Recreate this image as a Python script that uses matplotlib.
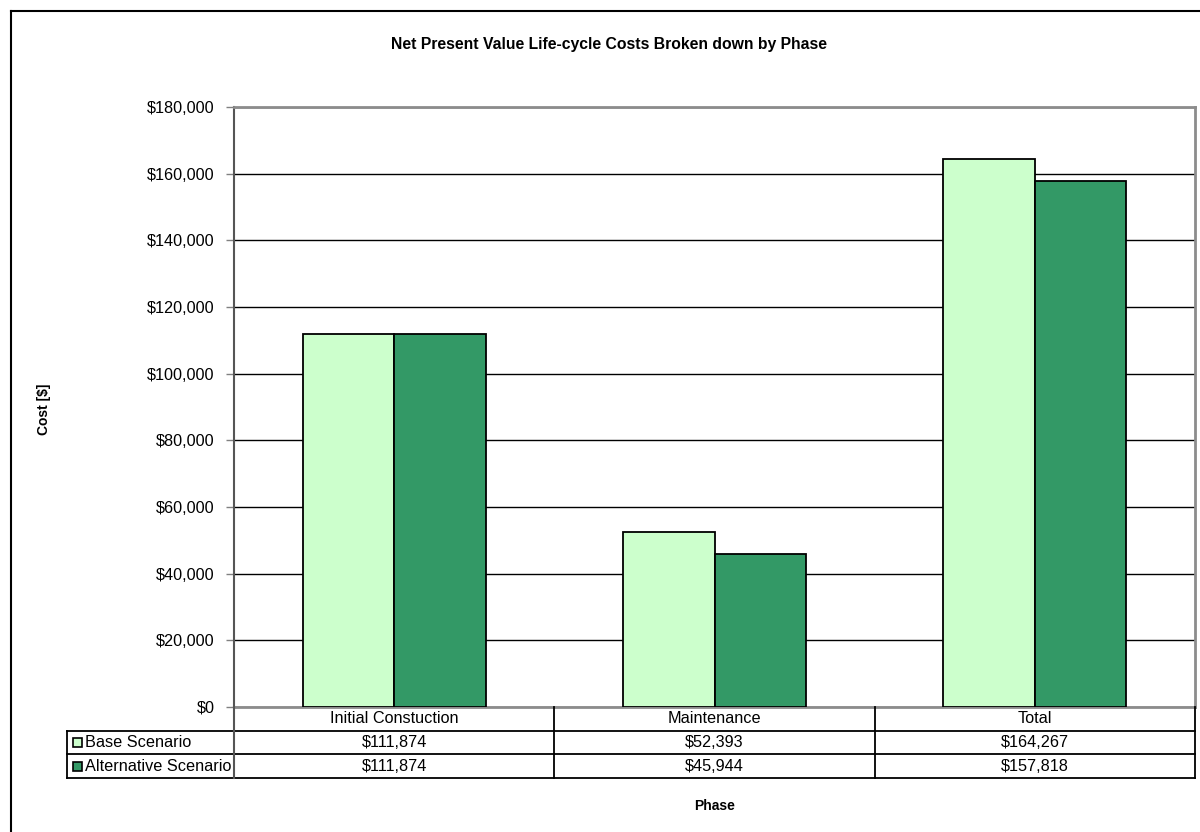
import matplotlib
matplotlib.use("Agg")
import matplotlib.pyplot as plt
import matplotlib.transforms as mtransforms
from matplotlib.patches import Rectangle
from matplotlib.lines import Line2D
from matplotlib.ticker import FuncFormatter, MultipleLocator
import numpy as np

plt.rcParams['font.family'] = ['Liberation Sans', 'DejaVu Sans']

phases = ["Initial Constuction", "Maintenance", "Total"]
series_names = ["Base Scenario", "Alternative Scenario"]
base_values = [111874, 52393, 164267]
alt_values = [111874, 45944, 157818]
colors = ["#CCFFCC", "#339966"]

W, H = 1200, 832
fig = plt.figure(figsize=(W / 100, H / 100), dpi=100)
fig.patch.set_facecolor("white")

# plot area in pixel coordinates
px_l, px_r, px_t, px_b = 234, 1195, 107, 707
ax = fig.add_axes([px_l / W, 1 - px_b / H, (px_r - px_l) / W, (px_b - px_t) / H])
ax_w_px = px_r - px_l
ax_h_px = px_b - px_t

n = len(phases)
x = np.arange(n)
bar_w = 1 / 3.5
ax.bar(x - bar_w / 2, base_values, width=bar_w, color=colors[0],
       edgecolor="black", linewidth=1.3, zorder=3)
ax.bar(x + bar_w / 2, alt_values, width=bar_w, color=colors[1],
       edgecolor="black", linewidth=1.3, zorder=3)

ax.set_xlim(-0.5, n - 0.5)
ax.set_ylim(0, 180000)
ax.yaxis.set_major_locator(MultipleLocator(20000))
ax.yaxis.set_major_formatter(FuncFormatter(lambda v, p: f"${v:,.0f}"))
ax.grid(axis="y", color="black", linewidth=1.0, zorder=1)
ax.set_xticks([])
ax.tick_params(axis="y", direction="out", length=6, width=1, color="#808080",
               labelsize=11.7, pad=8)

for side in ["top", "right", "bottom"]:
    ax.spines[side].set_color("#8c8c8c")
    ax.spines[side].set_linewidth(2)
ax.spines["left"].set_color("#555555")
ax.spines["left"].set_linewidth(1.5)

# data table drawn below the axis: x in data units, y in axes units
trans = mtransforms.blended_transform_factory(ax.transData, ax.transAxes)
row_h = 23.7 / ax_h_px
label_left = -(px_l - 67) / ax_w_px   # axes units
lw_tab = 1.3
tkw = dict(clip_on=False, zorder=6)

def hline(y, x0, x1, tr):
    ax.add_line(Line2D([x0, x1], [y, y], transform=tr, color="black", linewidth=lw_tab, **tkw))

def vline(xv, y0, y1, tr, color="black", lw=lw_tab):
    ax.add_line(Line2D([xv, xv], [y0, y1], transform=tr, color=color, linewidth=lw, **tkw))

# horizontal rules of the two data rows span label column + data columns
for k in (1, 2, 3):
    hline(-k * row_h, label_left, 1, ax.transAxes)
# column separators
for b in np.arange(n) + 0.5:
    vline(b, -3 * row_h, 0, trans)
vline(label_left, -3 * row_h, -row_h, ax.transAxes)
vline(0, -3 * row_h, 0, ax.transAxes, color="#555555", lw=1.5)

fs_tab = 11.7
fmt = lambda v: f"${v:,.0f}"
for i, p in enumerate(phases):
    ax.text(i, -0.5 * row_h, p, transform=trans, ha="center", va="center",
            fontsize=fs_tab, clip_on=False)
for r, vals in enumerate([base_values, alt_values]):
    yc = -(r + 1.5) * row_h
    for i, v in enumerate(vals):
        ax.text(i, yc, fmt(v), transform=trans, ha="center", va="center",
                fontsize=fs_tab, clip_on=False)
    # legend key and series name
    sq = 9
    ax.add_patch(Rectangle((label_left + 6 / ax_w_px, yc - sq / 2 / ax_h_px),
                           sq / ax_w_px, sq / ax_h_px, facecolor=colors[r],
                           edgecolor="black", linewidth=1.2,
                           transform=ax.transAxes, clip_on=False, zorder=7))
    ax.text(label_left + 18 / ax_w_px, yc, series_names[r], transform=ax.transAxes,
            ha="left", va="center", fontsize=fs_tab, clip_on=False)

fig.text(609 / W, 1 - 45 / H, "Net Present Value Life-cycle Costs Broken down by Phase",
         ha="center", va="center", fontsize=11.3, fontweight="bold")
fig.text(44 / W, 1 - 409 / H, "Cost [$]", ha="center", va="center",
         rotation=90, fontsize=10, fontweight="bold")
fig.text(715 / W, 1 - 806 / H, "Phase", ha="center", va="center",
         fontsize=10, fontweight="bold")

# chart frame
fig.add_artist(Line2D([10.5 / W, 10.5 / W], [1 - 11 / H, 0], color="black", linewidth=1.5))
fig.add_artist(Line2D([10.5 / W, 1], [1 - 11 / H, 1 - 11 / H], color="black", linewidth=1.5))

fig.savefig("out.png", dpi=100, facecolor="white")
